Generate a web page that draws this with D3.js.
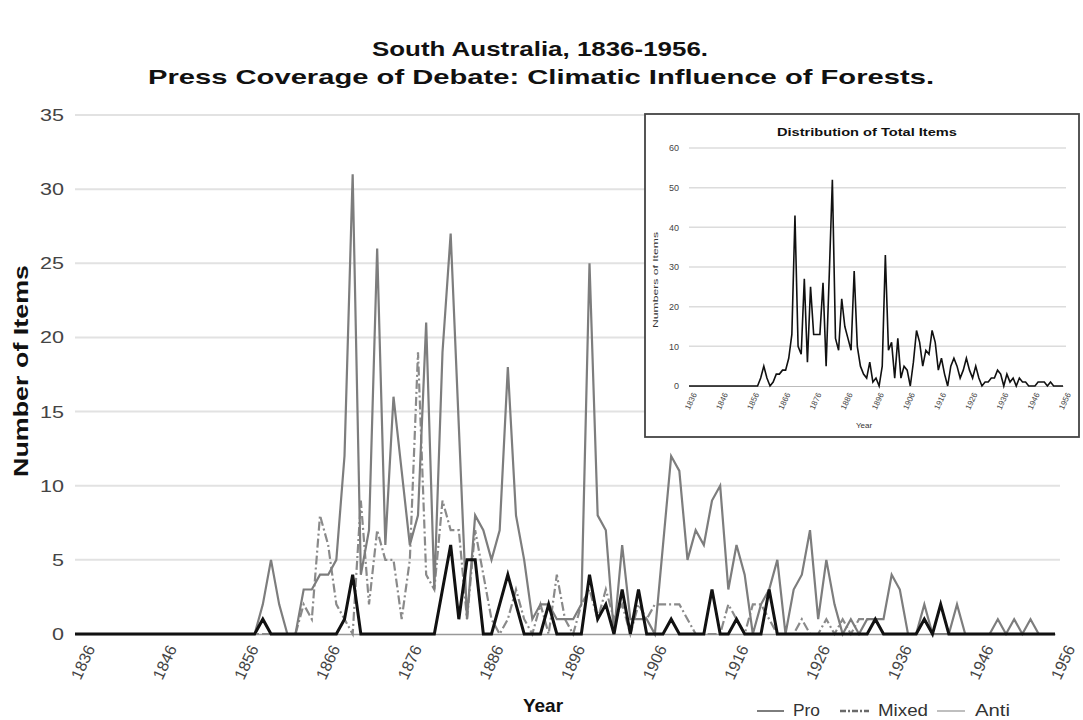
<!DOCTYPE html>
<html><head><meta charset="utf-8">
<script src="https://cdn.jsdelivr.net/npm/d3@7"></script>
<style>
body{margin:0;background:#fff}
svg{display:block}
text{font-family:"Liberation Sans",Arial,sans-serif}
</style>
</head><body>
<svg id="chart" width="1083" height="720"></svg>
<script>
// ---------- DATA ----------
const years = d3.range(1836, 1957);
const xTickYears = [1836,1846,1856,1866,1876,1886,1896,1906,1916,1926,1936,1946,1956];
const yTicks = [0,5,10,15,20,25,30,35];
const insetYTicks = [0,10,20,30,40,50,60];
const seriesNames = ["Pro","Mixed","Anti"];

const pro = [
 0,0,0,0,0,0,0,0,0,0,
 0,0,0,0,0,0,0,0,0,0,
 0,0,0,2,5,2,0,0,3,3,
 4,4,5,12,31,4,7,26,6,16,
 11,6,8,21,3,19,27,14,1,8,
 7,5,7,18,8,5,1,2,2,1,
 1,1,2,25,8,7,0,6,1,1,
 1,0,6,12,11,5,7,6,9,10,
 3,6,4,0,2,3,5,0,3,4,
 7,1,5,2,0,1,0,1,1,1,
 4,3,0,0,2,0,0,0,2,0,
 0,0,0,1,0,1,0,1,0,0,
 0];
const mixed = [
 0,0,0,0,0,0,0,0,0,0,
 0,0,0,0,0,0,0,0,0,0,
 0,0,0,0,0,0,0,0,2,1,
 8,6,2,1,0,9,2,7,5,5,
 1,5,19,4,3,9,7,7,1,7,
 4,1,0,1,3,1,0,2,0,4,
 1,0,2,3,1,3,1,2,0,2,
 1,2,2,2,2,1,0,0,0,0,
 2,1,0,2,2,1,0,0,0,1,
 0,0,1,0,1,0,1,1,1,0,
 0,0,0,0,1,0,0,0,0,0,
 0,0,0,0,0,0,0,0,0,0,
 0];
const anti = [
 0,0,0,0,0,0,0,0,0,0,
 0,0,0,0,0,0,0,0,0,0,
 0,0,0,1,0,0,0,0,0,0,
 0,0,0,1,4,0,0,0,0,0,
 0,0,0,0,0,3,6,1,5,5,
 0,0,2,4,2,0,0,0,2,0,
 0,0,0,4,1,2,0,3,0,3,
 0,0,0,1,0,0,0,0,3,0,
 0,1,0,0,0,3,0,0,0,0,
 0,0,0,0,0,0,0,0,1,0,
 0,0,0,0,1,0,2,0,0,0,
 0,0,0,0,0,0,0,0,0,0,
 0];
// inset: distribution of total items
const total = [
 0,0,0,0,0,0,0,0,0,0,
 0,0,0,0,0,0,0,0,0,0,
 0,0,0,2,5,2,0,1,3,3,
 4,4,7,13,43,10,8,27,6,25,
 13,13,13,26,5,28,52,12,9,22,
 15,12,9,29,10,5,3,2,6,1,
 2,0,5,33,9,11,2,12,2,5,
 4,0,6,14,11,5,9,8,14,11,
 4,7,3,0,5,7,5,2,4,7,
 4,2,5,2,0,1,1,2,2,4,
 3,0,3,1,2,0,2,1,1,0,
 0,0,1,1,1,0,1,0,0,0,
 0];

// ---------- CHART ----------
const svg = d3.select("#chart");

// Titles
svg.append("text").attr("x", 540).attr("y", 56).attr("text-anchor","middle")
  .attr("font-size", 21).attr("font-weight","bold").attr("fill","#111")
  .attr("textLength", 336).attr("lengthAdjust","spacingAndGlyphs")
  .text("South Australia, 1836-1956.");
svg.append("text").attr("x", 541).attr("y", 84).attr("text-anchor","middle")
  .attr("font-size", 21).attr("font-weight","bold").attr("fill","#111")
  .attr("textLength", 786).attr("lengthAdjust","spacingAndGlyphs")
  .text("Press Coverage of Debate: Climatic Influence of Forests.");

const x = d3.scaleLinear().domain([1836,1956]).range([75,1055]);
const y = d3.scaleLinear().domain([0,35]).range([634,115]);

// gridlines
svg.append("g").selectAll("line").data(yTicks.filter(d=>d>0)).join("line")
  .attr("x1", 75).attr("x2", 1060)
  .attr("y1", d=>y(d)).attr("y2", d=>y(d))
  .attr("stroke","#e2e2e2").attr("stroke-width",2);

// y axis labels
const yAxis = d3.axisLeft(y).tickValues(yTicks).tickSize(0).tickPadding(0);
const gy = svg.append("g").attr("transform","translate(64,0)").call(yAxis);
gy.select(".domain").remove();
gy.selectAll("text").attr("font-size",17).attr("fill","#444")
  .attr("font-family",'"Liberation Sans",Arial,sans-serif')
  .attr("textLength", d => String(d).length * 12)
  .attr("lengthAdjust","spacingAndGlyphs");

// x axis
const xAxis = d3.axisBottom(x).tickValues(xTickYears).tickFormat(d3.format("d")).tickSize(0);
const gx = svg.append("g").attr("transform","translate(0,634)").call(xAxis);
gx.select(".domain").attr("stroke","#999").attr("stroke-width",1.5);
gx.selectAll("text").attr("font-size",16).attr("fill","#444")
  .attr("font-family",'"Liberation Sans",Arial,sans-serif')
  .attr("text-anchor","end")
  .attr("transform", "translate(15,12) rotate(-65)")
  .attr("dy","0.35em").attr("y",0).attr("x",0);

// axis titles
svg.append("text").attr("transform","translate(28,371) rotate(-90)")
  .attr("text-anchor","middle").attr("font-size",20).attr("font-weight","bold")
  .attr("fill","#111").attr("textLength",212).attr("lengthAdjust","spacingAndGlyphs")
  .text("Number of Items");
svg.append("text").attr("x",543).attr("y",712).attr("text-anchor","middle")
  .attr("font-size",19).attr("font-weight","bold").attr("fill","#111").text("Year");

// lines
const lineGen = arr => d3.line().x((d,i)=>x(years[i])).y(d=>y(d))(arr);
svg.append("path").attr("d", lineGen(mixed)).attr("fill","none")
  .attr("stroke","#8a8a8a").attr("stroke-width",2.2)
  .attr("stroke-dasharray","9,3,2,3");
svg.append("path").attr("d", lineGen(pro)).attr("fill","none")
  .attr("stroke","#7d7d7d").attr("stroke-width",2.2);
svg.append("path").attr("d", lineGen(anti)).attr("fill","none")
  .attr("stroke","#111").attr("stroke-width",3);

// legend
const leg = svg.append("g");
const legItems = [
  {name: seriesNames[0], x1:757, x2:784, tx:793, len:27, stroke:"#7d7d7d", dash:null, w:2},
  {name: seriesNames[1], x1:840, x2:869, tx:878, len:50, stroke:"#6a6a6a", dash:"6,2,2,2", w:2.5},
  {name: seriesNames[2], x1:937, x2:965, tx:975, len:35, stroke:"#aaa", dash:null, w:1.5}
];
legItems.forEach(it=>{
  leg.append("line").attr("x1",it.x1).attr("x2",it.x2).attr("y1",711).attr("y2",711)
    .attr("stroke",it.stroke).attr("stroke-width",it.w).attr("stroke-dasharray",it.dash);
  leg.append("text").attr("x",it.tx).attr("y",716).attr("font-size",16).attr("fill","#333")
    .attr("textLength",it.len).attr("lengthAdjust","spacingAndGlyphs").text(it.name);
});

// ---------- INSET ----------
const ins = svg.append("g");
ins.append("rect").attr("x",645).attr("y",114).attr("width",434).attr("height",323)
  .attr("fill","#fff").attr("stroke","#444").attr("stroke-width",1.8);
ins.append("text").attr("x",867).attr("y",136).attr("text-anchor","middle")
  .attr("font-size",11).attr("font-weight","bold").attr("fill","#111")
  .attr("textLength",180).attr("lengthAdjust","spacingAndGlyphs")
  .text("Distribution of Total Items");
const xi = d3.scaleLinear().domain([1836,1956]).range([689,1063]);
const yi = d3.scaleLinear().domain([0,60]).range([386,148]);
ins.append("g").selectAll("line").data(insetYTicks.filter(d=>d>0)).join("line")
  .attr("x1",689).attr("x2",1066).attr("y1",d=>yi(d)).attr("y2",d=>yi(d))
  .attr("stroke","#dcdcdc").attr("stroke-width",1.5);
const giy = ins.append("g").attr("transform","translate(679,0)")
  .call(d3.axisLeft(yi).tickValues(insetYTicks).tickSize(0).tickPadding(0));
giy.select(".domain").remove();
giy.selectAll("text").attr("font-size",9).attr("fill","#444")
  .attr("font-family",'"Liberation Sans",Arial,sans-serif');
const gix = ins.append("g").attr("transform","translate(0,386)")
  .call(d3.axisBottom(xi).tickValues(xTickYears).tickFormat(d3.format("d")).tickSize(0));
gix.select(".domain").attr("stroke","#bbb");
gix.selectAll("text").attr("font-size",8).attr("fill","#444")
  .attr("font-family",'"Liberation Sans",Arial,sans-serif')
  .attr("text-anchor","end").attr("transform","translate(5,7) rotate(-65)")
  .attr("dy","0.35em").attr("y",0).attr("x",0);
ins.append("text").attr("transform","translate(658,280) rotate(-90)")
  .attr("text-anchor","middle").attr("font-size",8).attr("fill","#333")
  .attr("textLength",96).attr("lengthAdjust","spacingAndGlyphs").text("Numbers of Items");
ins.append("text").attr("x",864).attr("y",428).attr("text-anchor","middle")
  .attr("font-size",8).attr("fill","#333").text("Year");
ins.append("path").attr("d", d3.line().x((d,i)=>xi(years[i])).y(d=>yi(d))(total))
  .attr("fill","none").attr("stroke","#111").attr("stroke-width",1.6);
</script>
</body></html>
